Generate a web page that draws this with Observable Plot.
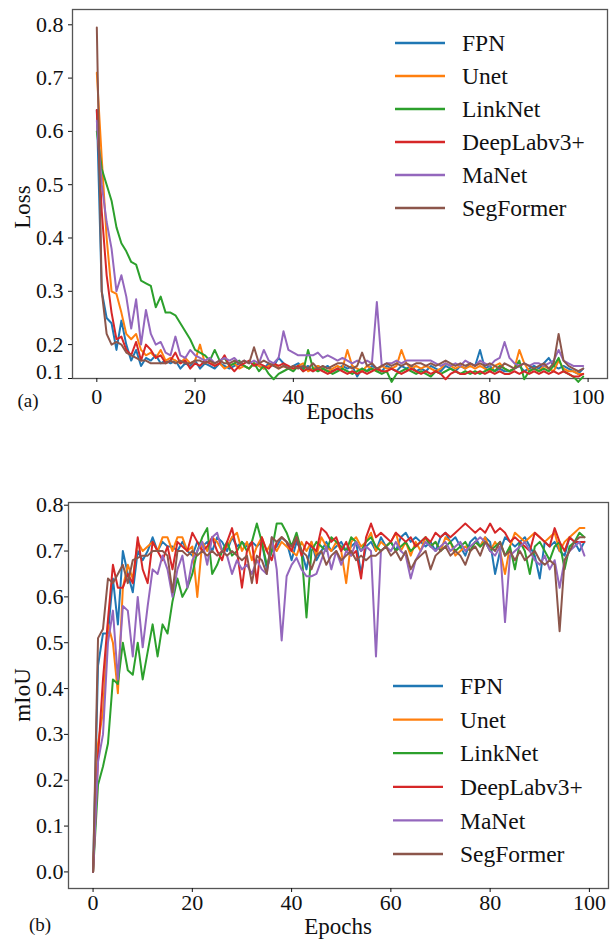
<!DOCTYPE html>
<html>
<head>
<meta charset="utf-8">
<script src="https://cdn.jsdelivr.net/npm/d3@7"></script>
<script src="https://cdn.jsdelivr.net/npm/@observablehq/plot@0.6"></script>
<style>
  html, body { margin: 0; padding: 0; background: #fff; }
  #wrap { width: 610px; height: 940px; position: relative; }
  #wrap svg { display: block; }
</style>
</head>
<body>
<div id="wrap"></div>
<script>
const models = ["FPN", "Unet", "LinkNet", "DeepLabv3+", "MaNet", "SegFormer"];
const colors = ["#1f77b4", "#ff7f0e", "#2ca02c", "#d62728", "#9467bd", "#8c564b"];
const xTicks = [0, 20, 40, 60, 80, 100];
const lossTicks = [0.1, 0.2, 0.3, 0.4, 0.5, 0.6, 0.7, 0.8];
const miouTicks = [0.0, 0.1, 0.2, 0.3, 0.4, 0.5, 0.6, 0.7, 0.8];

// ---- Loss (panel a) ----
const lossFPN = [
0.64,0.30,0.25,0.24,0.19,0.245,0.20,0.17,0.19,0.16,
0.175,0.17,0.18,0.165,0.17,0.165,0.17,0.155,0.165,0.16,
0.17,0.155,0.165,0.16,0.155,0.165,0.16,0.155,0.16,0.165,
0.16,0.155,0.165,0.16,0.155,0.165,0.16,0.175,0.165,0.155,
0.16,0.165,0.155,0.16,0.15,0.16,0.155,0.16,0.15,0.155,
0.16,0.155,0.16,0.14,0.155,0.15,0.16,0.155,0.15,0.16,
0.155,0.15,0.16,0.155,0.16,0.15,0.155,0.15,0.16,0.155,
0.15,0.16,0.155,0.15,0.16,0.155,0.165,0.16,0.19,0.155,
0.16,0.15,0.155,0.15,0.15,0.155,0.16,0.15,0.155,0.16,
0.155,0.165,0.175,0.16,0.155,0.16,0.155,0.15,0.145,0.155];
const lossUnet = [
0.71,0.55,0.40,0.30,0.295,0.26,0.22,0.21,0.22,0.19,
0.18,0.185,0.175,0.19,0.17,0.175,0.17,0.165,0.175,0.165,
0.17,0.20,0.165,0.17,0.16,0.165,0.155,0.16,0.165,0.155,
0.16,0.155,0.165,0.16,0.155,0.16,0.165,0.155,0.16,0.155,
0.155,0.16,0.165,0.15,0.155,0.16,0.155,0.15,0.155,0.16,
0.155,0.19,0.16,0.155,0.15,0.16,0.155,0.15,0.16,0.155,
0.155,0.16,0.19,0.165,0.155,0.16,0.155,0.16,0.155,0.15,
0.155,0.165,0.16,0.155,0.16,0.155,0.16,0.155,0.16,0.155,
0.15,0.16,0.165,0.155,0.15,0.155,0.19,0.165,0.15,0.155,
0.15,0.16,0.155,0.15,0.17,0.155,0.15,0.15,0.145,0.145];
const lossLinkNet = [
0.60,0.53,0.50,0.47,0.42,0.39,0.375,0.355,0.35,0.32,
0.315,0.31,0.27,0.29,0.26,0.26,0.255,0.24,0.225,0.21,
0.19,0.185,0.18,0.17,0.19,0.17,0.175,0.16,0.165,0.17,
0.16,0.155,0.165,0.15,0.16,0.145,0.135,0.145,0.15,0.155,
0.15,0.16,0.15,0.19,0.155,0.15,0.155,0.15,0.145,0.15,
0.155,0.15,0.145,0.15,0.155,0.15,0.155,0.15,0.145,0.15,
0.13,0.145,0.15,0.155,0.15,0.145,0.15,0.145,0.14,0.15,
0.145,0.15,0.155,0.15,0.145,0.15,0.145,0.15,0.145,0.15,
0.155,0.15,0.16,0.155,0.15,0.155,0.17,0.135,0.15,0.155,
0.15,0.155,0.15,0.16,0.175,0.15,0.145,0.14,0.13,0.14];
const lossDeepLab = [
0.64,0.45,0.33,0.26,0.21,0.215,0.19,0.18,0.205,0.17,
0.20,0.19,0.175,0.18,0.165,0.17,0.185,0.165,0.17,0.155,
0.165,0.16,0.17,0.165,0.16,0.165,0.18,0.16,0.15,0.16,
0.165,0.17,0.16,0.165,0.16,0.155,0.165,0.16,0.165,0.16,
0.155,0.16,0.15,0.155,0.15,0.155,0.15,0.145,0.15,0.155,
0.15,0.145,0.15,0.145,0.15,0.145,0.15,0.155,0.15,0.15,
0.155,0.15,0.145,0.15,0.155,0.15,0.145,0.15,0.145,0.15,
0.145,0.135,0.145,0.15,0.145,0.145,0.15,0.145,0.15,0.145,
0.15,0.145,0.15,0.145,0.145,0.15,0.145,0.15,0.145,0.15,
0.145,0.15,0.145,0.15,0.145,0.15,0.145,0.14,0.14,0.145];
const lossMaNet = [
0.62,0.50,0.43,0.38,0.30,0.33,0.29,0.23,0.285,0.20,
0.265,0.22,0.20,0.205,0.185,0.18,0.215,0.18,0.175,0.19,
0.18,0.175,0.17,0.175,0.165,0.17,0.175,0.17,0.175,0.165,
0.17,0.165,0.17,0.165,0.19,0.17,0.165,0.175,0.225,0.19,
0.185,0.18,0.18,0.18,0.18,0.185,0.175,0.18,0.175,0.17,
0.175,0.17,0.165,0.17,0.165,0.17,0.165,0.28,0.16,0.165,
0.165,0.17,0.165,0.17,0.17,0.17,0.17,0.17,0.17,0.165,
0.16,0.165,0.16,0.165,0.16,0.17,0.165,0.16,0.17,0.165,
0.16,0.17,0.175,0.205,0.175,0.165,0.16,0.165,0.16,0.165,
0.165,0.16,0.165,0.17,0.19,0.17,0.165,0.16,0.16,0.16];
const lossSegFormer = [
0.795,0.30,0.22,0.20,0.205,0.20,0.185,0.18,0.175,0.17,
0.17,0.165,0.165,0.165,0.165,0.17,0.165,0.17,0.165,0.165,
0.17,0.17,0.165,0.17,0.165,0.17,0.165,0.165,0.17,0.165,
0.17,0.165,0.195,0.165,0.17,0.165,0.16,0.155,0.16,0.155,
0.16,0.155,0.16,0.155,0.165,0.155,0.16,0.155,0.16,0.165,
0.165,0.16,0.155,0.16,0.185,0.16,0.165,0.155,0.16,0.165,
0.16,0.165,0.16,0.165,0.16,0.165,0.165,0.16,0.165,0.16,
0.165,0.17,0.165,0.16,0.165,0.16,0.165,0.16,0.165,0.16,
0.165,0.16,0.155,0.165,0.16,0.155,0.16,0.165,0.16,0.155,
0.16,0.165,0.155,0.165,0.22,0.17,0.16,0.155,0.15,0.155];

// ---- mIoU (panel b) ----
const miouFPN = [
0.0,0.45,0.52,0.52,0.64,0.54,0.70,0.65,0.61,0.70,
0.68,0.70,0.73,0.70,0.72,0.71,0.71,0.70,0.72,0.70,
0.69,0.72,0.71,0.72,0.70,0.73,0.72,0.70,0.73,0.71,
0.72,0.71,0.72,0.71,0.72,0.66,0.70,0.71,0.73,0.72,
0.68,0.72,0.70,0.66,0.72,0.68,0.70,0.72,0.70,0.71,
0.72,0.70,0.71,0.72,0.65,0.71,0.72,0.70,0.73,0.71,
0.72,0.70,0.73,0.74,0.72,0.73,0.72,0.71,0.72,0.70,
0.73,0.74,0.72,0.73,0.71,0.69,0.72,0.73,0.71,0.73,
0.72,0.65,0.70,0.73,0.72,0.71,0.72,0.73,0.71,0.69,
0.64,0.72,0.71,0.72,0.70,0.69,0.73,0.72,0.70,0.72];
const miouUnet = [
0.0,0.28,0.35,0.54,0.50,0.39,0.62,0.67,0.64,0.72,
0.70,0.71,0.72,0.70,0.73,0.73,0.70,0.73,0.73,0.70,
0.71,0.60,0.72,0.70,0.73,0.72,0.70,0.71,0.73,0.74,
0.70,0.72,0.68,0.71,0.73,0.70,0.72,0.70,0.72,0.71,
0.70,0.69,0.72,0.70,0.72,0.69,0.73,0.71,0.70,0.72,
0.70,0.63,0.72,0.73,0.71,0.72,0.74,0.70,0.72,0.71,
0.72,0.74,0.70,0.72,0.69,0.72,0.70,0.73,0.71,0.72,
0.70,0.73,0.72,0.69,0.70,0.71,0.70,0.72,0.71,0.73,
0.70,0.72,0.70,0.65,0.71,0.74,0.73,0.72,0.73,0.74,
0.73,0.72,0.73,0.74,0.70,0.72,0.73,0.74,0.75,0.75];
const miouLinkNet = [
0.0,0.19,0.23,0.28,0.42,0.41,0.50,0.44,0.43,0.50,
0.42,0.48,0.54,0.47,0.54,0.52,0.59,0.64,0.60,0.62,
0.65,0.70,0.73,0.75,0.65,0.67,0.70,0.72,0.69,0.70,
0.72,0.70,0.72,0.76,0.72,0.67,0.70,0.76,0.76,0.74,
0.71,0.74,0.70,0.555,0.70,0.72,0.71,0.70,0.73,0.72,
0.71,0.70,0.73,0.72,0.70,0.72,0.73,0.71,0.70,0.71,
0.72,0.70,0.71,0.72,0.70,0.71,0.72,0.73,0.71,0.72,
0.70,0.71,0.72,0.70,0.71,0.72,0.70,0.72,0.71,0.72,
0.70,0.71,0.72,0.69,0.71,0.66,0.72,0.70,0.65,0.71,
0.72,0.70,0.68,0.71,0.72,0.66,0.71,0.72,0.74,0.73];
const miouDeepLab = [
0.0,0.25,0.42,0.55,0.67,0.62,0.62,0.65,0.63,0.73,
0.66,0.63,0.72,0.70,0.68,0.71,0.66,0.72,0.71,0.70,
0.74,0.72,0.70,0.71,0.73,0.70,0.68,0.72,0.75,0.70,
0.62,0.70,0.72,0.63,0.73,0.70,0.68,0.72,0.73,0.72,
0.70,0.73,0.69,0.72,0.71,0.70,0.75,0.74,0.72,0.73,
0.70,0.72,0.69,0.70,0.64,0.73,0.76,0.73,0.74,0.73,
0.72,0.74,0.73,0.72,0.73,0.71,0.72,0.73,0.72,0.74,
0.73,0.74,0.73,0.74,0.75,0.76,0.75,0.74,0.75,0.74,
0.76,0.74,0.75,0.74,0.72,0.73,0.72,0.71,0.70,0.74,
0.73,0.72,0.71,0.75,0.72,0.70,0.73,0.72,0.72,0.72];
const miouMaNet = [
0.0,0.24,0.30,0.50,0.57,0.42,0.58,0.57,0.47,0.60,
0.49,0.58,0.66,0.65,0.69,0.66,0.60,0.66,0.69,0.62,
0.68,0.70,0.72,0.67,0.73,0.74,0.70,0.69,0.65,0.68,
0.66,0.67,0.65,0.68,0.66,0.65,0.73,0.66,0.505,0.645,
0.67,0.685,0.66,0.645,0.645,0.65,0.68,0.71,0.66,0.70,
0.67,0.70,0.69,0.72,0.70,0.71,0.70,0.47,0.70,0.71,
0.70,0.72,0.70,0.69,0.64,0.68,0.70,0.72,0.71,0.70,
0.71,0.72,0.70,0.71,0.72,0.70,0.71,0.72,0.73,0.72,
0.70,0.69,0.71,0.545,0.69,0.70,0.71,0.72,0.70,0.68,
0.67,0.69,0.66,0.68,0.62,0.68,0.70,0.71,0.72,0.69];
const miouSegFormer = [
0.0,0.51,0.53,0.64,0.63,0.65,0.67,0.63,0.68,0.685,
0.69,0.69,0.70,0.70,0.70,0.69,0.61,0.70,0.70,0.69,
0.70,0.69,0.70,0.69,0.70,0.69,0.70,0.69,0.70,0.69,
0.68,0.69,0.63,0.69,0.68,0.65,0.73,0.72,0.73,0.72,
0.71,0.73,0.70,0.69,0.66,0.69,0.70,0.67,0.69,0.70,
0.68,0.69,0.70,0.68,0.69,0.68,0.69,0.69,0.70,0.71,
0.69,0.70,0.68,0.70,0.66,0.68,0.69,0.70,0.66,0.69,
0.70,0.71,0.69,0.70,0.69,0.67,0.70,0.71,0.69,0.72,
0.71,0.70,0.72,0.69,0.70,0.68,0.70,0.68,0.69,0.70,
0.68,0.67,0.68,0.67,0.525,0.68,0.70,0.72,0.73,0.73];

const lossSeries = [lossFPN, lossUnet, lossLinkNet, lossDeepLab, lossMaNet, lossSegFormer];
const miouSeries = [miouFPN, miouUnet, miouLinkNet, miouDeepLab, miouMaNet, miouSegFormer];

function toRows(seriesList) {
  const rows = [];
  seriesList.forEach((arr, i) => arr.forEach((v, e) => rows.push({model: models[i], epoch: e, value: v})));
  return rows;
}

const FONT = "Liberation Serif, Times New Roman, DejaVu Serif, serif";
const wrap = document.getElementById("wrap");

function addLegend(svg, x0, y0, step) {
  const g = d3.select(svg).append("g");
  models.forEach((m, i) => {
    const y = y0 + i * step;
    g.append("line").attr("x1", x0).attr("x2", x0 + 50).attr("y1", y).attr("y2", y)
      .attr("stroke", colors[i]).attr("stroke-width", 2.3);
    g.append("text").attr("x", x0 + 67).attr("y", y).attr("dy", "0.35em")
      .attr("text-anchor", "start").attr("fill", "#111")
      .style("font-family", FONT).style("font-size", "23.5px").text(m);
  });
}

function addLabel(svg, text, x, y, size, rotate) {
  d3.select(svg).append("text")
    .attr("transform", `translate(${x},${y})` + (rotate ? ` rotate(${rotate})` : ""))
    .attr("text-anchor", "middle").attr("dy", "0.35em").attr("fill", "#111")
    .style("font-family", FONT).style("font-size", size + "px").text(text);
}

// Panel (a): Loss
const lossYDomain = [0.1364, 0.8287];
const plotA = Plot.plot({
  width: 610, height: 430,
  marginLeft: 72, marginRight: 3, marginTop: 9, marginBottom: 52,
  style: {fontFamily: FONT, fontSize: "22px", color: "#111", background: "#fff"},
  x: {domain: [-4.95, 103.95], label: null},
  y: {domain: lossYDomain, label: null},
  color: {domain: models, range: colors},
  marks: [
    Plot.frame({stroke: "#555", strokeWidth: 1.3}),
    Plot.axisX({ticks: xTicks, tickSize: 4, tickPadding: 6, tickFormat: d => String(d), label: null}),
    Plot.axisY({ticks: [lossYDomain[0]].concat(lossTicks.slice(1)), tickSize: 4, tickPadding: 5, label: null,
      tickFormat: d => d < 0.15 ? "" : d.toFixed(1)}),
    Plot.axisY({ticks: [lossYDomain[0]], tickSize: 0, tickPadding: 9, dy: -7, label: null,
      tickFormat: () => lossTicks[0].toFixed(1)}),
    Plot.line(toRows(lossSeries), {x: "epoch", y: "value", z: "model", stroke: "model", strokeWidth: 2})
  ]
});
addLegend(plotA, 395, 43, 33);
addLabel(plotA, "Epochs", 340, 411, 23);
addLabel(plotA, "Loss", 22, 207, 23, -90);
addLabel(plotA, "(a)", 28, 400, 19);
wrap.appendChild(plotA);

// Panel (b): mIoU
const plotB = Plot.plot({
  width: 610, height: 510,
  marginLeft: 68, marginRight: 2, marginTop: 72, marginBottom: 52,
  style: {fontFamily: FONT, fontSize: "22px", color: "#111", background: "#fff"},
  x: {domain: [-4.95, 103.85], label: null},
  y: {domain: [-0.0362, 0.8059], label: null},
  color: {domain: models, range: colors},
  marks: [
    Plot.frame({stroke: "#555", strokeWidth: 1.3}),
    Plot.axisX({ticks: xTicks, tickSize: 4, tickPadding: 2, tickFormat: d => String(d), label: null}),
    Plot.axisY({ticks: miouTicks, tickSize: 4, tickPadding: 1, tickFormat: d => d.toFixed(1), label: null}),
    Plot.line(toRows(miouSeries), {x: "epoch", y: "value", z: "model", stroke: "model", strokeWidth: 2})
  ]
});
addLegend(plotB, 393, 256, 33.6);
addLabel(plotB, "Epochs", 338, 496, 23);
addLabel(plotB, "mIoU", 22, 265, 23, -90);
addLabel(plotB, "(b)", 40, 494, 19);
wrap.appendChild(plotB);
</script>
</body>
</html>
